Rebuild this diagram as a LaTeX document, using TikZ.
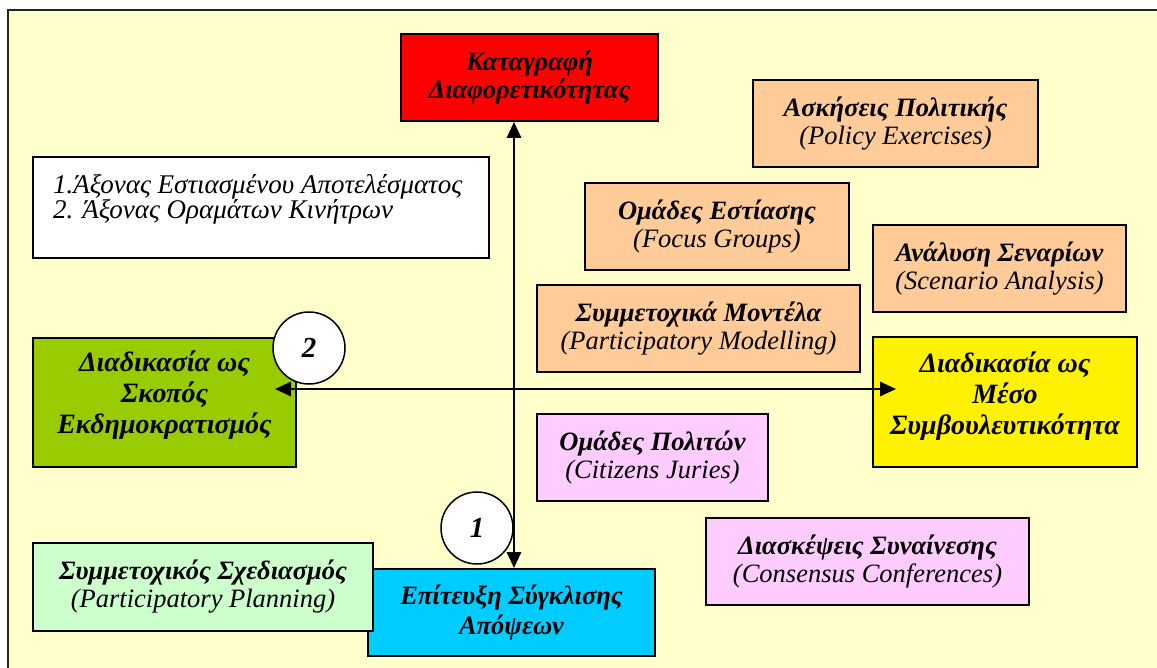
\documentclass[tikz,border=0pt]{standalone}
\usepackage{fontspec}
\setmainfont{Liberation Serif}
\usetikzlibrary{arrows.meta}
\definecolor{paper}{HTML}{FFFFCC}
\definecolor{peach}{HTML}{FFCC99}
\definecolor{lime}{HTML}{99CC00}
\definecolor{pinkish}{HTML}{FFCCFF}
\definecolor{mint}{HTML}{CCFFCC}
\definecolor{sky}{HTML}{00CCFF}
\begin{document}
\begin{tikzpicture}[x=1pt,y=-1pt,
  box/.style={draw=black, line width=1.8pt, inner sep=0pt, align=center,
    font=\fontsize{26.5}{28}\selectfont\bfseries\itshape},
  twoline/.style={font=\fontsize{26.5}{30}\selectfont\bfseries\itshape},
  boxtext/.style={inner sep=0pt, align=center,
    font=\fontsize{28}{31}\selectfont\bfseries\itshape},
  numc/.style={circle, draw=black, fill=white, line width=1.5pt, inner sep=0pt,
    minimum size=72pt, font=\fontsize{29}{30}\selectfont\bfseries\itshape},
  biarrow/.style={line width=2.8pt,
    {Triangle[length=16pt,width=14pt]}-{Triangle[length=16pt,width=14pt]}}]
\useasboundingbox (0,0) rectangle (1157,667);
\fill[white] (0,0) rectangle (1157,667);
% page frame
\draw[line width=2pt, draw=black!85, fill=paper] (8,10) rectangle (1175,685);

% axis ends
\node[box, fill=red, minimum width=257pt, minimum height=87pt] (diversity) at (529.5,77.5)
  {Καταγραφή\\Διαφορετικότητας};
\node[box, fill=lime, minimum width=263pt, minimum height=129pt] (democr) at (164.5,402.5) {};
\node[boxtext] (democrtext) at ([yshift=7pt]democr.center)
  {Διαδικασία ως\\Σκοπός\\Εκδημοκρατισμός};
\node[box, fill=yellow, minimum width=264pt, minimum height=130pt] (advice) at (1005,402) {};
\node[boxtext] (advicetext) at ([yshift=6pt]advice.center)
  {Διαδικασία ως\\Μέσο\\Συμβουλευτικότητα};
\node[box, twoline, fill=sky, minimum width=287pt, minimum height=87pt] (consensus) at (511.5,612.5)
  {Επίτευξη Σύγκλισης\\Απόψεων};

% legend
\node[box, fill=white, minimum width=456pt, minimum height=101pt] (legend) at (261,207.5) {};
\node[anchor=north west, inner sep=0pt, align=left, font=\fontsize{27}{25.5}\selectfont\itshape]
  (legendtext) at (53,174)
  {1.Άξονας Εστιασμένου Αποτελέσματος\\2. Άξονας Οραμάτων Κινήτρων};

% methods
\node[box, fill=peach, minimum width=285pt, minimum height=87pt] (policy) at (895.5,123.5)
  {Ασκήσεις Πολιτικής\\{\mdseries (Policy Exercises)}};
\node[box, fill=peach, minimum width=264pt, minimum height=87pt] (focus) at (717,226.5)
  {Ομάδες Εστίασης\\{\mdseries (Focus Groups)}};
\node[box, fill=peach, minimum width=253pt, minimum height=87pt] (scenario) at (999.5,268.5)
  {Ανάλυση Σεναρίων\\{\mdseries (Scenario Analysis)}};
\node[box, fill=peach, minimum width=323pt, minimum height=87pt] (model) at (698.5,328.5)
  {Συμμετοχικά Μοντέλα\\{\mdseries (Participatory Modelling)}};
\node[box, fill=pinkish, minimum width=231pt, minimum height=87pt] (juries) at (652.5,457.5)
  {Ομάδες Πολιτών\\{\mdseries (Citizens Juries)}};
\node[box, fill=pinkish, minimum width=323pt, minimum height=87pt] (conf) at (867.5,561.5)
  {Διασκέψεις Συναίνεσης\\{\mdseries (Consensus Conferences)}};
\node[box, fill=mint, minimum width=340pt, minimum height=88pt] (planning) at (203,587)
  {Συμμετοχικός Σχεδιασμός\\{\mdseries (Participatory Planning)}};

% axes
\coordinate (vx) at (514,0);
\coordinate (hy) at (0,389);
\coordinate (hl) at ([xshift=-22pt]democr.east);
\coordinate (hr) at ([xshift=24pt]advice.west);
\draw[biarrow] (diversity.south -| vx) -- (consensus.north -| vx);
\draw[biarrow] (hl |- hy) -- (hr |- hy);

% axis numbers
\node[numc] (axis2) at (309,348) {2};
\node[numc] (axis1) at (477,528) {1};
\end{tikzpicture}
\end{document}
